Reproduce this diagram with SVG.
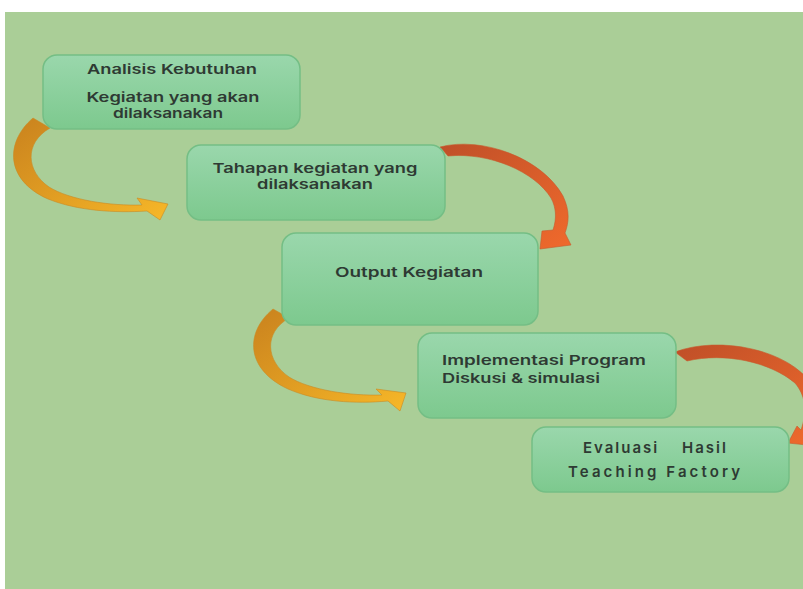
<svg xmlns="http://www.w3.org/2000/svg" width="803" height="589" viewBox="0 0 803 589">
<defs>
<linearGradient id="nodeFill" x1="0" y1="0" x2="0" y2="1">
<stop offset="0" stop-color="#9AD7AC"/>
<stop offset="1" stop-color="#7DC98E"/>
</linearGradient>
<linearGradient id="yel" x1="0" y1="0" x2="1" y2="1">
<stop offset="0" stop-color="#C9821E"/>
<stop offset="0.45" stop-color="#DE9A22"/>
<stop offset="1" stop-color="#F7B828"/>
</linearGradient>
<linearGradient id="red" x1="0" y1="0" x2="1" y2="1">
<stop offset="0" stop-color="#BF4F28"/>
<stop offset="1" stop-color="#F06A2C"/>
</linearGradient>
<style>
.node rect{fill:url(#nodeFill);stroke:#74BE85;stroke-width:1.5}
.t{font-family:Inter,"Open Sans","Liberation Sans",sans-serif;font-weight:600;font-size:13.5px;fill:#2E3A33}
.c{text-anchor:middle}
.ls{font-size:15px;letter-spacing:2px}
.ya{fill:url(#yel);stroke:#C98A24;stroke-width:0.6}
.ra{fill:url(#red);stroke:#C65A2E;stroke-width:0.6}
</style>
</defs>
<rect x="0" y="0" width="803" height="589" fill="#FFFFFF"/>
<rect x="5" y="12" width="798" height="577" fill="#AACE97"/>
<g id="connectors">
<path class="ya" d="M 33 118 C 5 142, 5 180, 48 199 C 78 211, 115 213, 147 211 L 160 220 L 168 204 L 137 198 L 142 205 C 110 206, 70 200, 49 187 C 26 171, 24 143, 50 128 Z"/>
<path class="ra" d="M 440 147 C 482 136, 542 158, 563 196 C 570 211, 569 222, 565 233 L 571 245 L 540 249 L 542 231 L 553 230 C 557 218, 556 207, 551 198 C 535 172, 490 152, 448 156 Z"/>
<path class="ya" d="M 273 309 C 245 332, 245 369, 288 389 C 318 402, 355 404, 388 401 L 400 411 L 406 393 L 376 389 L 382 395 C 350 396, 310 390, 289 377 C 266 361, 263 333, 289 318 Z"/>
<path class="ra" d="M 675 352 C 720 335, 790 350, 812 385 C 820 400, 818 415, 808 430 L 816 446 L 788 443 L 797 426 L 801 430 C 808 410, 805 395, 795 383 C 770 362, 725 352, 687 361 Z"/>
</g>
<g id="node1" class="node">
<rect x="43" y="55" width="257" height="74" rx="14"/>
<text class="t c" x="172" y="74" textLength="170" lengthAdjust="spacingAndGlyphs">Analisis Kebutuhan</text>
<text class="t c" x="173" y="102" textLength="173" lengthAdjust="spacingAndGlyphs">Kegiatan yang akan</text>
<text class="t c" x="168" y="118" textLength="110" lengthAdjust="spacingAndGlyphs">dilaksanakan</text>
</g>
<g id="node2" class="node">
<rect x="187" y="145" width="258" height="75" rx="14"/>
<text class="t c" x="315" y="173" textLength="205" lengthAdjust="spacingAndGlyphs">Tahapan kegiatan yang</text>
<text class="t c" x="315" y="189" textLength="116" lengthAdjust="spacingAndGlyphs">dilaksanakan</text>
</g>
<g id="node3" class="node">
<rect x="282" y="233" width="256" height="92" rx="14"/>
<text class="t c" x="409" y="277" textLength="148" lengthAdjust="spacingAndGlyphs">Output Kegiatan</text>
</g>
<g id="node4" class="node">
<rect x="418" y="333" width="258" height="85" rx="14"/>
<text class="t" x="442" y="365" textLength="204" lengthAdjust="spacingAndGlyphs">Implementasi Program</text>
<text class="t" x="442" y="383" textLength="158" lengthAdjust="spacingAndGlyphs">Diskusi &amp; simulasi</text>
</g>
<g id="node5" class="node">
<rect x="532" y="427" width="257" height="65" rx="14"/>
<text class="t ls" y="453"><tspan x="583">Evaluasi</tspan><tspan x="682">Hasil</tspan></text>
<text class="t ls" x="568" y="477" textLength="174" lengthAdjust="spacing">Teaching Factory</text>
</g>
</svg>
